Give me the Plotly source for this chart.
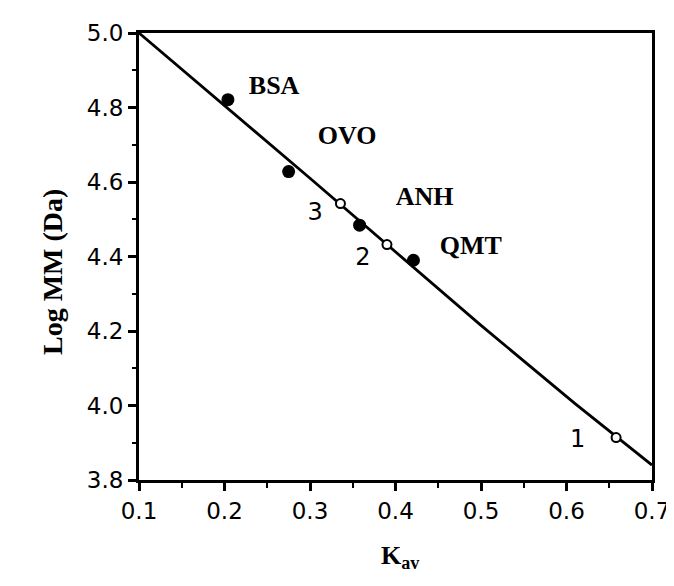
import plotly.graph_objects as go

# Fitted calibration line
fit_x = [0.1, 0.3, 0.5, 0.61, 0.7]
fit_y = [5.0, 4.61, 4.215, 4.005, 3.84]

# Standard proteins (filled)
std_names = ["BSA", "OVO", "ANH", "QMT"]
std_x = [0.204, 0.275, 0.358, 0.421]
std_y = [4.821, 4.628, 4.484, 4.390]
std_label_x = [0.258, 0.3435, 0.434, 0.488]
std_label_y = [4.853, 4.719, 4.557, 4.425]

# Samples (open)
smp_names = ["3", "2", "1"]
smp_x = [0.3356, 0.390, 0.658]
smp_y = [4.542, 4.432, 3.914]
smp_label_x = [0.306, 0.362, 0.613]
smp_label_y = [4.514, 4.392, 3.905]

x_ticks = [0.1, 0.2, 0.3, 0.4, 0.5, 0.6, 0.7]
y_ticks = [3.8, 4.0, 4.2, 4.4, 4.6, 4.8, 5.0]

fig = go.Figure()
fig.add_trace(go.Scatter(x=fit_x, y=fit_y, mode="lines",
                         line=dict(color="black", width=2.8), hoverinfo="skip"))
fig.add_trace(go.Scatter(x=std_x, y=std_y, mode="markers",
                         marker=dict(color="black", size=13, line=dict(width=0))))
fig.add_trace(go.Scatter(x=smp_x, y=smp_y, mode="markers",
                         marker=dict(color="white", size=9, line=dict(color="black", width=2))))
fig.add_trace(go.Scatter(x=std_label_x, y=std_label_y, mode="text", text=std_names,
                         textfont=dict(family="Liberation Serif", size=26, color="black", weight="bold")))
fig.add_trace(go.Scatter(x=smp_label_x, y=smp_label_y, mode="text", text=smp_names,
                         textfont=dict(family="DejaVu Sans", size=24, color="black")))

axis_common = dict(
    showgrid=False, zeroline=False, showline=True, linecolor="black", linewidth=3,
    mirror=True, ticks="outside", ticklen=8, tickwidth=2.5, tickcolor="black",
    tickfont=dict(family="DejaVu Sans", size=23, color="black"),
)

fig.update_xaxes(range=[0.1, 0.7], tickvals=x_ticks, ticktext=[f"{v:.1f}" for v in x_ticks],
                 minor=dict(dtick=0.05, ticks="outside", ticklen=5, tickwidth=2, tickcolor="black"),
                 **axis_common)
fig.update_yaxes(range=[3.8, 5.0], tickvals=y_ticks, ticktext=[f"{v:.1f}" for v in y_ticks],
                 minor=dict(dtick=0.1, ticks="outside", ticklen=4, tickwidth=2, tickcolor="black"),
                 **axis_common)

fig.add_annotation(text="<b>K<sub>av</sub></b>", xref="paper", yref="paper",
                   x=0.51, y=-0.212, showarrow=False,
                   font=dict(family="Liberation Serif", size=26, color="black"))
fig.add_annotation(text="<b>Log MM (Da)</b>", xref="paper", yref="paper",
                   x=-0.204, y=0.465, showarrow=False, textangle=-90,
                   font=dict(family="Liberation Serif", size=28, color="black"))

fig.update_layout(width=674, height=586, showlegend=False,
                  paper_bgcolor="white", plot_bgcolor="white",
                  margin=dict(l=131, r=23, t=23, b=114))

fig.write_html("out.html")
